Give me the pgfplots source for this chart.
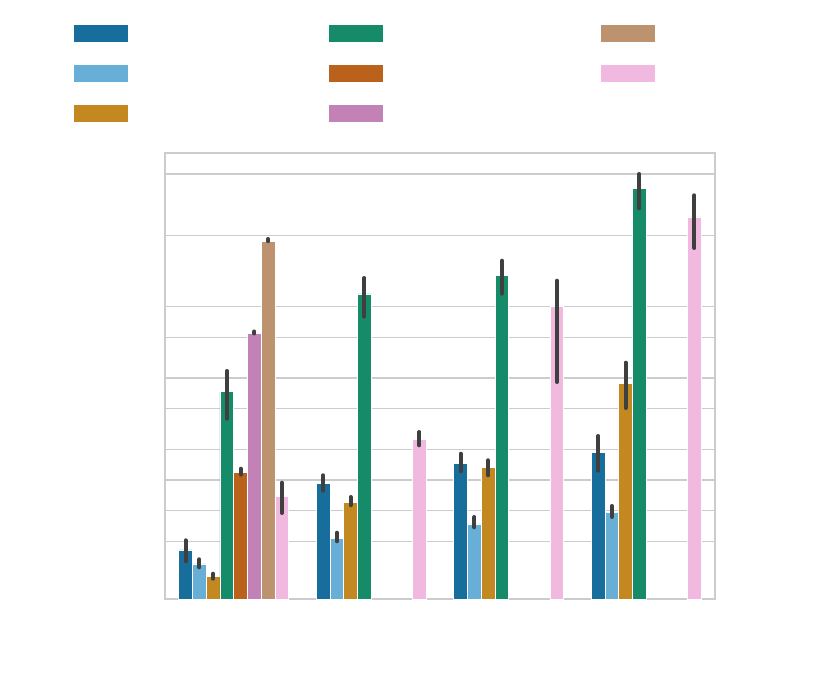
\documentclass[border=0pt]{standalone}
\usepackage{pgfplots}
\pgfplotsset{compat=1.18}
\definecolor{cBlue}{HTML}{176D9C}
\definecolor{cLBlue}{HTML}{68AFD7}
\definecolor{cGold}{HTML}{C38820}
\definecolor{cGreen}{HTML}{168B6A}
\definecolor{cOrange}{HTML}{BA611B}
\definecolor{cPurple}{HTML}{C282B6}
\definecolor{cTan}{HTML}{BD926E}
\definecolor{cPink}{HTML}{F1B8E0}
\definecolor{cGrid}{HTML}{CCCCCC}
\definecolor{cErr}{HTML}{3F3F3F}
\pgfplotsset{
  errs/.style={
    /pgfplots/error bars/y dir=both,
    /pgfplots/error bars/y explicit,
    /pgfplots/error bars/error mark=none,
    /pgfplots/error bars/error bar style={cErr, line width=2pt, line cap=round, solid}
  }
}
\begin{document}
\begin{tikzpicture}
\begin{axis}[
  at={(0pt,0pt)}, anchor=south west,
  scale only axis, width=275pt, height=223.3pt,
  xmin=-0.5, xmax=3.5, ymin=0, ymax=446.6,
  xtick=\empty,
  ytick={58,88.6,119.3,150,190.6,221.3,262,293,364,425.3},
  yticklabels={}, major tick length=0pt,
  ymajorgrids, grid style={cGrid, line width=0.75pt},
  axis line style={cGrid, line width=1pt},
  ybar, bar width=0.1,
  legend image code/.code={\fill[#1, draw=none] (0pt,-4.4pt) rectangle (26.6pt,4.4pt);},
  legend style={at={(axis description cs:-0.1649,1.2866)}, anchor=north west,
    draw=none, fill=none, inner sep=0pt, outer sep=0pt,
    nodes={inner sep=0pt, outer sep=0pt, text depth=0pt},
    row sep=11.2pt, column sep=0pt},
  legend cell align=left,
  legend columns=3, transpose legend,
]
% hue 0
\addplot[fill=cBlue, draw=white, line width=0.4pt, bar shift=-0.35, errs] coordinates {
  (0,49.3) += (0,9.7) -= (0,11.3)
  (1,116) += (0,8) -= (0,7.4)
  (2,136) += (0,9.6) -= (0,8)
  (3,147) += (0,16.3) -= (0,18.4)
};
\addlegendentry{\hspace*{100.9pt}}
% hue 1
\addplot[fill=cLBlue, draw=white, line width=0.4pt, bar shift=-0.25, errs] coordinates {
  (0,35.3) += (0,4.7) -= (0,3.3)
  (1,61) += (0,5.6) -= (0,3)
  (2,75.3) += (0,7) -= (0,3.3)
  (3,87) += (0,6.3) -= (0,4.7)
};
\addlegendentry{}
% hue 2
\addplot[fill=cGold, draw=white, line width=0.4pt, bar shift=-0.15, errs] coordinates {
  (0,22.6) += (0,3) -= (0,2)
  (1,96.6) += (0,5.7) -= (0,2.6)
  (2,131.6) += (0,7.4) -= (0,7.6)
  (3,215.6) += (0,21) -= (0,24.3)
};
\addlegendentry{}
% hue 3
\addplot[fill=cGreen, draw=white, line width=0.4pt, bar shift=-0.05, errs] coordinates {
  (0,207.6) += (0,20.7) -= (0,27)
  (1,305.3) += (0,16) -= (0,22.7)
  (2,324) += (0,14.6) -= (0,18.4)
  (3,411) += (0,14.3) -= (0,20)
};
\addlegendentry{\hspace*{109.4pt}}
% hue 4
\addplot[fill=cOrange, draw=white, line width=0.4pt, bar shift=0.05, errs] coordinates {
  (0,127) += (0,3.6) -= (0,2.4)
};
\addlegendentry{}
% hue 5
\addplot[fill=cPurple, draw=white, line width=0.4pt, bar shift=0.15, errs] coordinates {
  (0,266.3) += (0,1.5) -= (0,0.5)
};
\addlegendentry{}
% hue 6
\addplot[fill=cTan, draw=white, line width=0.4pt, bar shift=0.25, errs] coordinates {
  (0,358.3) += (0,2) -= (0,0)
};
\addlegendentry{}
% hue 7
\addplot[fill=cPink, draw=white, line width=0.4pt, bar shift=0.35, errs] coordinates {
  (0,102.6) += (0,14) -= (0,16.3)
  (1,160) += (0,7.3) -= (0,6)
  (2,293.3) += (0,25.3) -= (0,76)
  (3,382.3) += (0,21.7) -= (0,31)
};
\addlegendentry{}
\end{axis}
\path (-82.5pt,-44.85pt) rectangle (332.5pt,299.65pt);
\end{tikzpicture}
\end{document}
